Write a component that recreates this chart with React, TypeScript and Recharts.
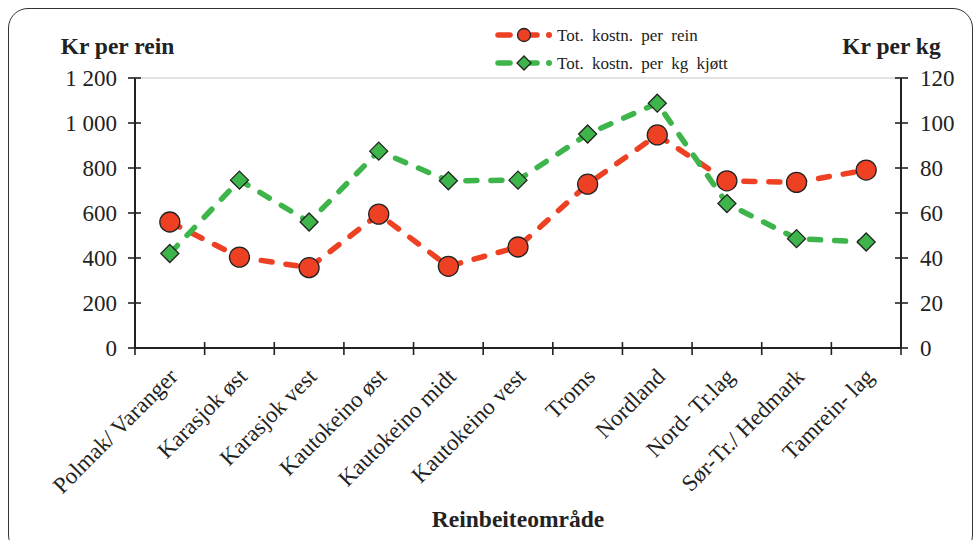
import { LineChart, Line, XAxis, YAxis, Legend, ReferenceLine, Label } from 'recharts';

const regions = [
  'Polmak/ Varanger',
  'Karasjok øst',
  'Karasjok vest',
  'Kautokeino øst',
  'Kautokeino midt',
  'Kautokeino vest',
  'Troms',
  'Nordland',
  'Nord- Tr.lag',
  'Sør-Tr./ Hedmark',
  'Tamrein- lag',
];
const kostnPerRein = [560, 404, 357, 595, 363, 449, 728, 947, 743, 736, 791];
const kostnPerKg = [42, 74.6, 56, 87.5, 74.3, 74.6, 95.1, 108.8, 64.2, 48.6, 47.1];
const reinTicks = [0, 200, 400, 600, 800, 1000, 1200];
const kgTicks = [0, 20, 40, 60, 80, 100, 120];
const legendOrder = ['rein', 'kg'];

const data = regions.map((name, i) => ({ name, rein: kostnPerRein[i], kg: kostnPerKg[i] }));

const W = 974;
const H = 540;
const LEFT_W = 135;
const RIGHT_W = 73;
const PLOT_W = W - LEFT_W - RIGHT_W;
const HALF = PLOT_W / 22;

const FONT = '"Liberation Serif", "Times New Roman", serif';
const INK = '#222';
const RED = '#ee4124';
const GREEN = '#3db54a';
const TICK_FS = 23;

// 1 200 style thousands separator
const fmt = (v: number) => (v >= 1000 ? `${Math.floor(v / 1000)} ${String(v % 1000).padStart(3, '0')}` : String(v));

function LeftTick({ x, y, payload }: any) {
  return (
    <g>
      <line x1={x - 7} x2={x + 6} y1={y} y2={y} stroke={INK} strokeWidth={1.6} />
      <text x={x - 18} y={y} dy="0.35em" textAnchor="end" fontSize={TICK_FS} fontFamily={FONT} fill={INK}>
        {fmt(payload.value)}
      </text>
    </g>
  );
}

function RightTick({ x, y, payload }: any) {
  return (
    <g>
      <line x1={x - 6} x2={x + 7} y1={y} y2={y} stroke={INK} strokeWidth={1.6} />
      <text x={x + 19} y={y} dy="0.35em" textAnchor="start" fontSize={TICK_FS} fontFamily={FONT} fill={INK}>
        {payload.value}
      </text>
    </g>
  );
}

function CatTick({ x, y, payload, index }: any) {
  const tx = x + 9;
  const ty = y + 30;
  return (
    <g>
      <line x1={x - HALF} x2={x - HALF} y1={y - 6} y2={y + 7} stroke={INK} strokeWidth={1.6} />
      {index === regions.length - 1 && (
        <line x1={x + HALF} x2={x + HALF} y1={y - 6} y2={y + 7} stroke={INK} strokeWidth={1.6} />
      )}
      <text x={tx} y={ty} textAnchor="end" transform={`rotate(-45 ${tx} ${ty})`} fontSize={TICK_FS} fontFamily={FONT} fill={INK}>
        {payload.value}
      </text>
    </g>
  );
}

function Diamond({ cx, cy, size = 9, fill }: any) {
  return (
    <path
      d={`M${cx},${cy - size} L${cx + size},${cy} L${cx},${cy + size} L${cx - size},${cy} Z`}
      fill={fill}
      stroke={INK}
      strokeWidth={1.3}
    />
  );
}

function LegendContent({ payload }: any) {
  const items = [...(payload || [])].sort(
    (a: any, b: any) => legendOrder.indexOf(a.dataKey) - legendOrder.indexOf(b.dataKey),
  );
  return (
    <svg width={300} height={56}>
      {items.map((entry: any, i: number) => {
        const cy = 15 + i * 28;
        const c = entry.color;
        return (
          <g key={entry.value}>
            <line x1={8} x2={20} y1={cy} y2={cy} stroke={c} strokeWidth={5.5} strokeLinecap="round" />
            <line x1={40} x2={47} y1={cy} y2={cy} stroke={c} strokeWidth={5.5} strokeLinecap="round" />
            <circle cx={59} cy={cy} r={3} fill={c} />
            {entry.dataKey === 'kg' ? (
              <Diamond cx={34} cy={cy} size={7} fill={c} />
            ) : (
              <circle cx={34} cy={cy} r={6.5} fill={c} stroke={INK} strokeWidth={1.3} />
            )}
            <text x={67} y={cy} dy="0.35em" fontSize={17} fontFamily={FONT} fill={INK} wordSpacing={4}>
              {entry.value}
            </text>
          </g>
        );
      })}
    </svg>
  );
}

export default function App() {
  return (
    <div style={{ position: 'absolute', left: 0, top: 0, width: W, height: H, overflow: 'hidden', background: '#fff' }}>
      <div
        style={{
          position: 'absolute',
          left: 8,
          top: 8,
          width: 963,
          height: 545,
          border: '1.6px solid #333',
          borderRadius: 20,
          pointerEvents: 'none',
        }}
      />
      <div style={{ position: 'absolute', left: 0, top: 0 }}>
        <LineChart width={W} height={H} data={data} margin={{ top: 78, right: 0, bottom: 0, left: 0 }}>
          <XAxis
            dataKey="name"
            interval={0}
            height={192}
            padding={{ left: HALF, right: HALF }}
            axisLine={{ stroke: INK, strokeWidth: 2 }}
            tickLine={false}
            tickSize={0}
            tickMargin={0}
            tick={<CatTick />}
          >
            <Label value="Reinbeiteområde" position="insideBottom" offset={13} fontSize={23.5} fontWeight="bold" fontFamily={FONT} fill={INK} />
          </XAxis>
          <YAxis
            yAxisId="rein"
            width={LEFT_W}
            domain={[0, 1200]}
            ticks={reinTicks}
            axisLine={{ stroke: INK, strokeWidth: 2 }}
            tickLine={false}
            tickSize={0}
            tickMargin={0}
            tick={<LeftTick />}
          >
            <Label value="Kr per rein" position="top" offset={24} dx={50} fontSize={23.5} fontWeight="bold" fontFamily={FONT} fill={INK} />
          </YAxis>
          <YAxis
            yAxisId="kg"
            orientation="right"
            width={RIGHT_W}
            domain={[0, 120]}
            ticks={kgTicks}
            axisLine={{ stroke: INK, strokeWidth: 2 }}
            tickLine={false}
            tickSize={0}
            tickMargin={0}
            tick={<RightTick />}
          >
            <Label value="Kr per kg" position="top" offset={24} dx={-46} fontSize={23.5} fontWeight="bold" fontFamily={FONT} fill={INK} />
          </YAxis>
          <ReferenceLine yAxisId="rein" y={1200} stroke="#c8c8c8" strokeWidth={1.2} />
          <Legend
            layout="vertical"
            align="center"
            verticalAlign="middle"
            wrapperStyle={{ top: 20, left: 490, width: 300, height: 56 }}
            content={<LegendContent />}
          />
          <Line
            yAxisId="rein"
            dataKey="rein"
            name="Tot. kostn. per rein"
            stroke={RED}
            strokeWidth={5.5}
            strokeDasharray="11 14"
            strokeLinecap="round"
            dot={{ r: 10, fill: RED, stroke: INK, strokeWidth: 1.3, strokeDasharray: '' }}
            isAnimationActive={false}
          />
          <Line
            yAxisId="kg"
            dataKey="kg"
            name="Tot. kostn. per kg kjøtt"
            stroke={GREEN}
            strokeWidth={5.5}
            strokeDasharray="11 14"
            strokeLinecap="round"
            dot={(p: any) => <Diamond key={`d-${p.index}`} cx={p.cx} cy={p.cy} size={9} fill={GREEN} />}
            isAnimationActive={false}
          />
        </LineChart>
      </div>
    </div>
  );
}
